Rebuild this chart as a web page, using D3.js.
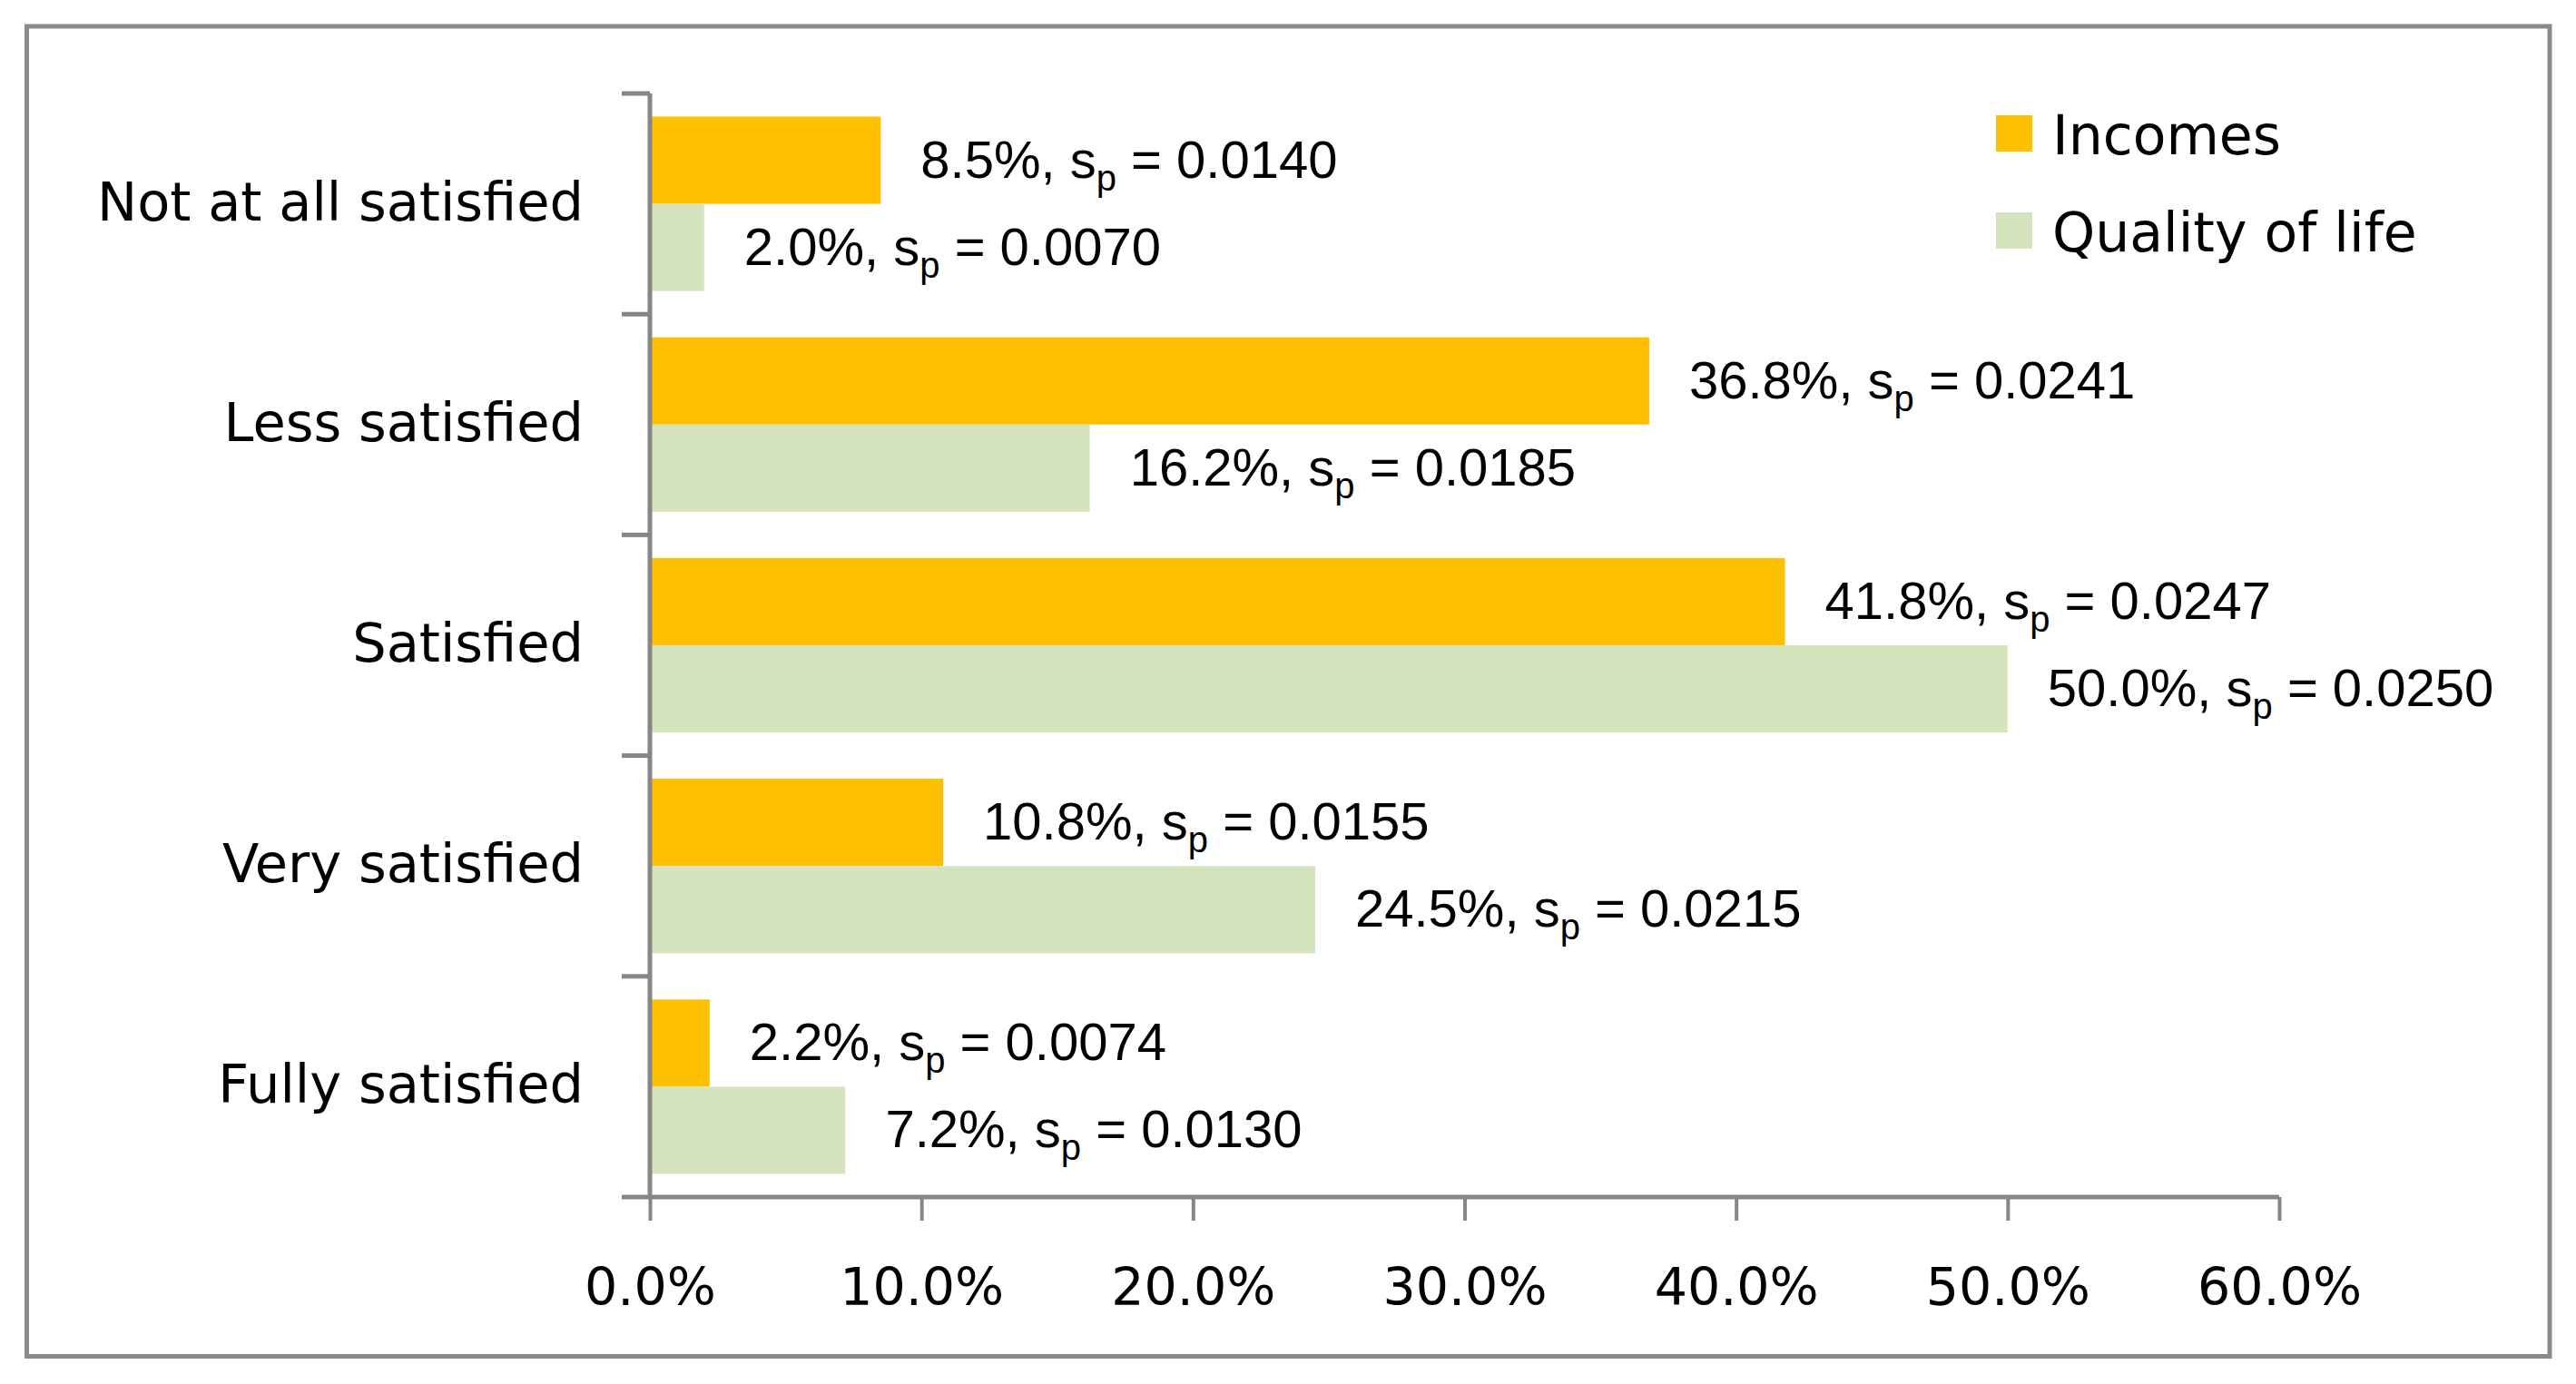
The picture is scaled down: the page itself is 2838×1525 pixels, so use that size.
<!DOCTYPE html>
<html>
<head>
<meta charset="utf-8">
<script src="https://cdn.jsdelivr.net/npm/d3@7"></script>
<style>
  html, body { margin: 0; padding: 0; background: #ffffff; }
  svg { display: block; }
</style>
</head>
<body>
<script>
// ---- data ----
const categories = ["Not at all satisfied", "Less satisfied", "Satisfied", "Very satisfied", "Fully satisfied"];
const seriesNames = ["Incomes", "Quality of life"];
const incomesValues = [8.5, 36.8, 41.8, 10.8, 2.2];
const qualityValues = [2.0, 16.2, 50.0, 24.5, 7.2];
const incomesSp = ["0.0140", "0.0241", "0.0247", "0.0155", "0.0074"];
const qualitySp = ["0.0070", "0.0185", "0.0250", "0.0215", "0.0130"];
const xTickValues = [0, 10, 20, 30, 40, 50, 60];
const seriesColors = ["#FFC000", "#D6E4BD"];

// ---- layout ----
const W = 2838, H = 1525;
const svg = d3.select("body").append("svg").attr("width", W).attr("height", H);
svg.append("rect").attr("width", W).attr("height", H).attr("fill", "#ffffff");

// outer border
svg.append("rect")
  .attr("x", 29.5).attr("y", 29)
  .attr("width", 2809 - 29.5).attr("height", 1494.5 - 29)
  .attr("fill", "none").attr("stroke", "#8a8a8a").attr("stroke-width", 5);

const x = d3.scaleLinear().domain([0, 60]).range([716, 2511]);
const y = d3.scaleBand().domain(categories).range([103, 1319]).paddingInner(0).paddingOuter(0);
const ySub = d3.scaleBand().domain(seriesNames).range([0, y.bandwidth()]).paddingInner(0).paddingOuter(0.265);
const color = d3.scaleOrdinal().domain(seriesNames).range(seriesColors);

const rows = [];
categories.forEach((c, i) => {
  rows.push({cat: c, series: seriesNames[0], value: incomesValues[i], sp: incomesSp[i]});
  rows.push({cat: c, series: seriesNames[1], value: qualityValues[i], sp: qualitySp[i]});
});

// bars
svg.append("g").selectAll("rect").data(rows).join("rect")
  .attr("x", x(0))
  .attr("y", d => y(d.cat) + ySub(d.series))
  .attr("width", d => x(d.value) - x(0))
  .attr("height", ySub.bandwidth())
  .attr("fill", d => color(d.series));

// data labels
const numFont = "'Liberation Sans', Arial, sans-serif";
const lbl = svg.append("g").selectAll("text").data(rows).join("text")
  .attr("x", d => x(d.value) + 44)
  .attr("y", d => y(d.cat) + ySub(d.series) + ySub.bandwidth() / 2 + 19)
  .attr("font-family", numFont)
  .attr("font-size", 58)
  .attr("fill", "#000");
lbl.append("tspan").text(d => d.value.toFixed(1) + "%, s");
lbl.append("tspan").attr("font-size", 40).attr("dy", 14).text("p");
lbl.append("tspan").attr("dy", -14).text(d => " = " + d.sp);

// x axis
const axisColor = "#868686";
const xAxis = d3.axisBottom(x).tickValues(xTickValues).tickSize(26).tickPadding(53)
  .tickFormat(v => v.toFixed(1) + "%");
const gx = svg.append("g").attr("transform", `translate(0,${1319})`).call(xAxis);
gx.select(".domain").attr("stroke", axisColor).attr("stroke-width", 5)
  .attr("d", `M${x(0)},0H${x(60)}`);
gx.selectAll(".tick line").attr("stroke", axisColor).attr("stroke-width", 4);
gx.selectAll(".tick text")
  .attr("font-family", "'DejaVu Sans', sans-serif")
  .attr("font-size", 57)
  .attr("fill", "#000")
  .attr("dy", "0.71em");

// y axis line + ticks at band boundaries
const gy = svg.append("g");
gy.append("line")
  .attr("x1", x(0)).attr("x2", x(0))
  .attr("y1", y.range()[0]).attr("y2", y.range()[1])
  .attr("stroke", axisColor).attr("stroke-width", 5);
const boundaries = categories.map(c => y(c)).concat([y.range()[1]]);
gy.selectAll("line.tk").data(boundaries).join("line")
  .attr("class", "tk")
  .attr("x1", x(0) - 31).attr("x2", x(0))
  .attr("y1", d => d).attr("y2", d => d)
  .attr("stroke", axisColor).attr("stroke-width", 5);

// category labels
gy.selectAll("text").data(categories).join("text")
  .attr("x", 643)
  .attr("y", d => y(d) + y.bandwidth() / 2 + 18)
  .attr("text-anchor", "end")
  .attr("font-family", "'DejaVu Sans', sans-serif")
  .attr("font-size", 59)
  .attr("fill", "#000")
  .text(d => d);

// legend
const legend = svg.append("g");
const legY = [127, 234];
seriesNames.forEach((s, i) => {
  legend.append("rect")
    .attr("x", 2199).attr("y", legY[i])
    .attr("width", 40).attr("height", 40)
    .attr("fill", color(s));
  legend.append("text")
    .attr("x", 2261).attr("y", legY[i] + 43)
    .attr("font-family", "'DejaVu Sans', sans-serif")
    .attr("font-size", 60)
    .attr("fill", "#000")
    .text(s);
});
</script>
</body>
</html>
